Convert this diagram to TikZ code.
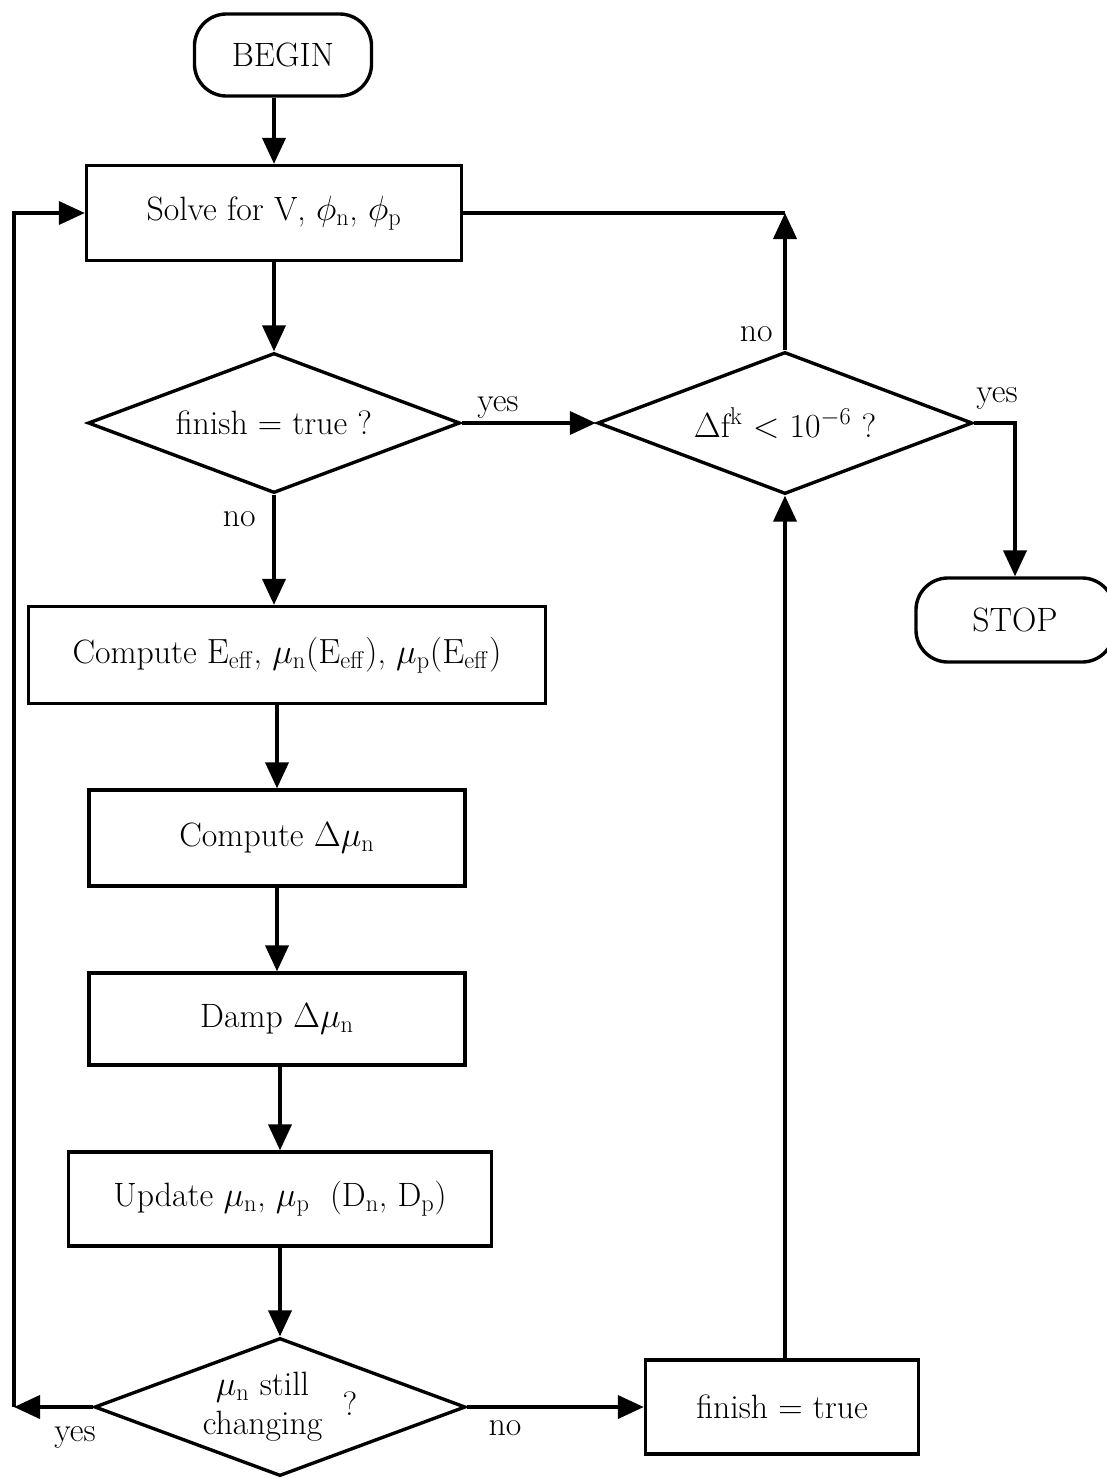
\documentclass[tikz,border=0pt]{standalone}
\usetikzlibrary{shapes.geometric,arrows.meta}
\begin{document}
\begin{tikzpicture}[x=0.025cm,y=-0.025cm,
  every node/.style={font=\fontsize{24}{28}\selectfont},
  box/.style={draw,line width=2.4pt,rectangle,inner sep=0pt},
  term/.style={draw,line width=2.4pt,rectangle,rounded corners=0.8cm,inner sep=0pt},
  dec/.style={draw,line width=2.4pt,diamond,inner sep=0pt},
  arr/.style={line width=2.4pt,-{Triangle[length=0.65cm,width=0.58cm]}},
  ln/.style={line width=2.4pt},
  lbl/.style={inner sep=2pt}]
\useasboundingbox (0,0) rectangle (1106,1478);
\node[term,minimum width=4.425cm,minimum height=2.05cm] (begin) at (283,55) {BEGIN};
\node[box,minimum width=9.375cm,minimum height=2.375cm] (solve) at (274,213) {Solve for V, $\phi_{\mathrm{n}}$, $\phi_{\mathrm{p}}$};
\node[dec,minimum width=9.3cm,minimum height=3.5cm,shape aspect=2.66] (d1) at (274,423) {finish = true ?};
\node[dec,minimum width=9.375cm,minimum height=3.55cm,shape aspect=2.64] (d2) at (785,423) {$\Delta$f$^{\mathrm{k}}$ $<$ 10$^{-6}$ ?};
\node[term,minimum width=4.95cm,minimum height=2.1cm] (stop) at (1015,620) {STOP};
\node[box,minimum width=12.925cm,minimum height=2.425cm] (ceff) at (287,655) {Compute $\mathrm{E}_{\mathrm{eff}}$, $\mu_{\mathrm{n}}(\mathrm{E}_{\mathrm{eff}})$, $\mu_{\mathrm{p}}(\mathrm{E}_{\mathrm{eff}})$};
\node[box,minimum width=9.4cm,minimum height=2.4cm] (cdmu) at (277,838) {Compute $\Delta\mu_{\mathrm{n}}$};
\node[box,minimum width=9.4cm,minimum height=2.3cm] (damp) at (277,1019) {Damp $\Delta\mu_{\mathrm{n}}$};
\node[box,minimum width=10.575cm,minimum height=2.35cm] (update) at (280,1199) {Update $\mu_{\mathrm{n}}$, $\mu_{\mathrm{p}}$ \ (D$_{\mathrm{n}}$, D$_{\mathrm{p}}$)};
\node[dec,minimum width=9.275cm,minimum height=3.45cm,shape aspect=2.69] (d3) at (280,1407) {\begin{tabular}{@{}c@{}}$\mu_{\mathrm{n}}$ still\\changing\end{tabular}\ \ ?};
\node[box,minimum width=6.825cm,minimum height=2.35cm] (fin) at (782,1407) {finish = true};
\coordinate (L) at (14,1407);
\coordinate (J) at (d2.north |- solve.east);
% connectors
\draw[arr] (begin.south -| solve.north) -- (solve.north);
\draw[arr] (solve.south) -- (d1.north);
\draw[arr] (d1.east) -- (d2.west) node[lbl,pos=0.27,above] {yes};
\draw[ln] (solve.east) -- (J);
\draw[arr] (d2.north) -- (J) node[lbl,pos=0.15,left,xshift=-0.2cm,yshift=-0.1cm] {no};
\draw[arr] (d2.east) -| (stop.north);
\node[lbl] (yes2) at (997,398) {yes};
\draw[arr] (d1.south) -- (d1.south |- ceff.north) node[lbl,pos=0.22,left,xshift=-0.35cm] {no};
\draw[arr] (cdmu.north |- ceff.south) -- (cdmu.north);
\draw[arr] (cdmu.south) -- (damp.north);
\draw[arr] (update.north |- damp.south) -- (update.north);
\draw[arr] (update.south) -- (d3.north);
\draw[arr] (d3.west) -- (L);
\node[lbl] (yes3) at (75,1437) {yes};
\draw[arr] (L) |- (solve.west);
\draw[arr] (d3.east) -- (fin.west);
\node[lbl] (no3) at (505,1428) {no};
\draw[arr] (fin.north -| d2.south) -- (d2.south);
\end{tikzpicture}
\end{document}
